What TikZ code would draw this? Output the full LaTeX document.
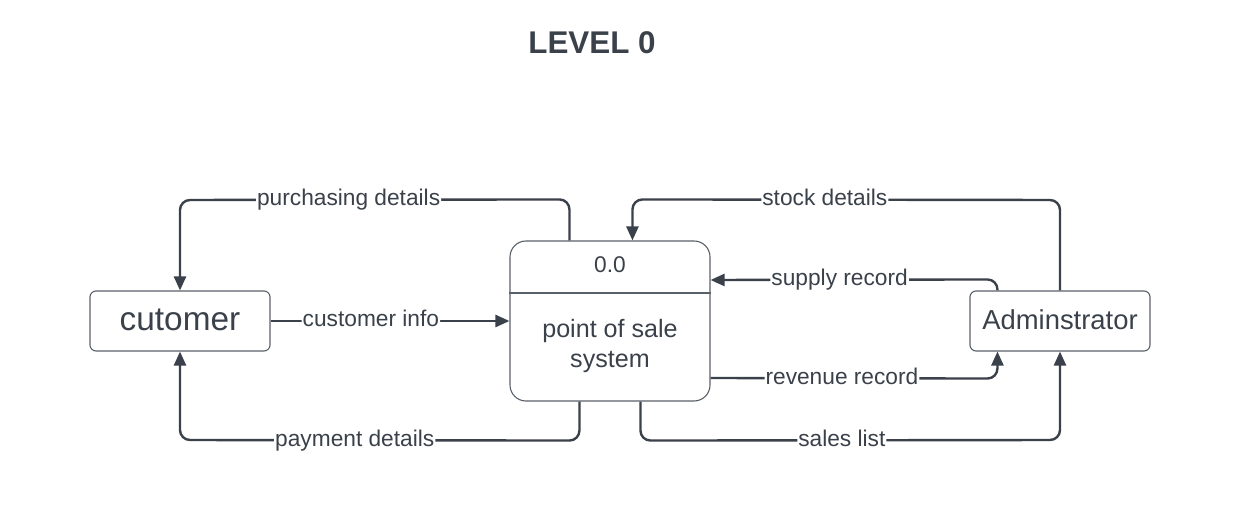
\documentclass[tikz,border=0pt]{standalone}
\usepackage{fontspec}
\setmainfont{Liberation Sans}
\usetikzlibrary{arrows.meta,calc}
\definecolor{ink}{HTML}{3A414A}
\definecolor{edge}{HTML}{5A6068}
\tikzset{
  flow/.style={draw=ink, line width=2.4bp, rounded corners=10bp, -{Triangle[length=14bp,width=12bp]}},
  lbl/.style={fill=white, text=ink, font=\fontsize{22.8}{26}\selectfont, inner xsep=1bp, inner ysep=1bp, text height=17.8bp, text depth=5.9bp},
  ext/.style={draw=edge, line width=1.1bp, rounded corners=6bp, minimum width=180bp, minimum height=60bp, text=ink, inner sep=0pt},
  procbox/.style={draw=edge, line width=1.1bp, rounded corners=16bp, minimum width=200bp, minimum height=160bp, inner sep=0pt},
  ptext/.style={text=ink, align=center, inner sep=0pt}
}
\begin{document}
\begin{tikzpicture}[x=1bp,y=-1bp]
\useasboundingbox (0,0) rectangle (1244,522);
\node[text=ink, font=\bfseries\fontsize{31.5}{36}\selectfont] (title) at (592,43) {LEVEL 0};
\node[ext, font=\fontsize{33.5}{38}\selectfont] (cust) at (180,321) {\raisebox{3bp}{cutomer}};
\node[ext, font=\fontsize{27.5}{32}\selectfont] (admin) at (1060,321) {\raisebox{3bp}{Adminstrator}};
\node[procbox] (proc) at (610,321) {};
\draw[draw=edge, line width=1.1bp] (proc.west |- 0,293) -- (proc.east |- 0,293);
\node[ptext, font=\fontsize{22.8}{26}\selectfont] (pid) at (610,265) {0.0};
\node[ptext, font=\fontsize{25.2}{29.5}\selectfont] (pname) at (610,346) {point of sale\\system};
% purchasing details
\draw[flow] ($(proc.north west)+(60,0)$) -- ++(0,-41) -- node[lbl,pos=0.567]{purchasing details} (cust.north |- 0,200) -- (cust.north);
% customer info
\draw[flow] (cust.east) -- node[lbl,pos=0.42]{customer info} (proc.west |- cust.east);
% payment details
\draw[flow] ($(proc.south west)+(70,0)$) -- ++(0,39) -- node[lbl,pos=0.5625]{payment details} (cust.south |- 0,440) -- (cust.south);
% stock details
\draw[flow] (admin.north) -- (admin.north |- 0,200) -- node[lbl,pos=0.55]{stock details} ($(proc.north west)+(123,-41)$) -- ($(proc.north west)+(123,0)$);
% supply record
\draw[flow] ($(admin.north west)+(28,0)$) -- ++(0,-11) -- node[lbl,pos=0.55]{supply record} (proc.east |- 0,280);
% revenue record
\draw[flow] (proc.east |- 0,378) -- node[lbl,pos=0.458]{revenue record} ($(admin.south west)+(28,27)$) -- ($(admin.south west)+(28,0)$);
% sales list
\draw[flow] ($(proc.south west)+(131,0)$) -- ++(0,39) -- node[lbl,pos=0.48]{sales list} (admin.south |- 0,440) -- (admin.south);
\end{tikzpicture}
\end{document}
